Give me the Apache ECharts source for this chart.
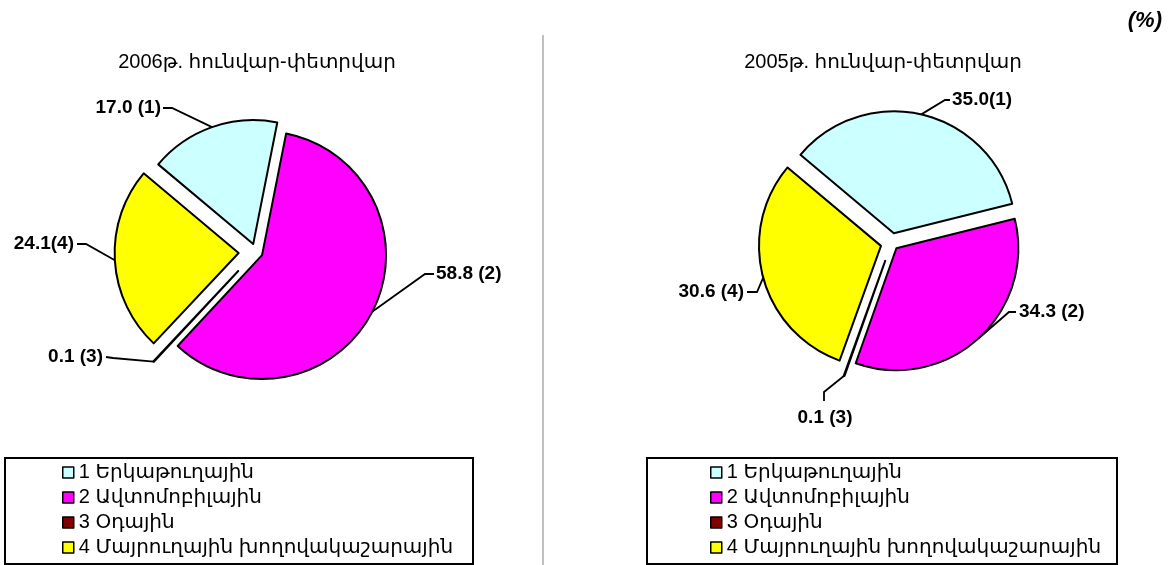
<!DOCTYPE html>
<html>
<head>
<meta charset="utf-8">
<script src="https://cdn.jsdelivr.net/npm/echarts@6/dist/echarts.min.js"></script>
<style>
html, body { margin: 0; padding: 0; background: #fff; }
#chart { width: 1172px; height: 565px; }
</style>
</head>
<body>
<div id="chart"></div>
<script>
// data
var categories = ['1 Երկաթուղային', '2 Ավտոմոբիլային', '3 Օդային', '4 Մայրուղային խողովակաշարային'];
var values2006 = [17.0, 58.8, 0.1, 24.1];
var values2005 = [35.0, 34.3, 0.1, 30.6];
var labelGap2006 = [' ', ' ', ' ', ''];
var labelGap2005 = ['', ' ', ' ', ' '];
var title2006 = '2006թ. հունվար-փետրվար';
var title2005 = '2005թ. հունվար-փետրվար';
var unitText = '(%)';

var colors = ['#ccffff', '#ff00ff', '#800000', '#ffff00'];
var FONT = "'Liberation Sans', 'DejaVu Sans', sans-serif";
var START = 140;

// layout: exploded slices and label spots (Excel style)
var layout2006 = {
  center: [256, 252], radius: 124,
  offsets: [8.4, 6.8, 26, 17.4],
  spots: [
    { x: 161, y: 108, align: 'right', knee: [172, 108], end: [163, 108] },
    { x: 436, y: 274, align: 'left', knee: [425, 274], end: [434, 274] },
    { x: 103, y: 357, align: 'right', knee: [113, 358], end: [106, 357] },
    { x: 74, y: 244, align: 'right', knee: [86, 244], end: [77, 244] }
  ]
};
var layout2005 = {
  center: [891.6, 243], radius: 122,
  offsets: [10, 7.1, 19, 11],
  spots: [
    { x: 952, y: 100, align: 'left', knee: [945, 100], end: [950, 100] },
    { x: 1019, y: 312, align: 'left', knee: [1009, 312], end: [1016, 312] },
    { x: 825, y: 418, align: 'center', knee: [824, 392], end: [824, 401] },
    { x: 744, y: 292, align: 'right', knee: [757, 292], end: [747, 292] }
  ]
};

function pieSeries(values, gaps, lay) {
  var total = values.reduce(function (a, b) { return a + b; }, 0);
  var before = 0;
  var list = [];
  values.forEach(function (v, k) {
    var mid = (START - (before + v / 2) / total * 360) * Math.PI / 180;
    before += v;
    var cx = lay.center[0] + lay.offsets[k] * Math.cos(mid);
    var cy = lay.center[1] - lay.offsets[k] * Math.sin(mid);
    list.push({
      type: 'pie',
      center: [cx, cy],
      radius: lay.radius,
      startAngle: START,
      clockwise: true,
      silent: true,
      animation: false,
      avoidLabelOverlap: false,
      emphasis: { disabled: true },
      data: values.map(function (val, i) {
        var on = i === k;
        return {
          name: categories[i],
          value: val,
          itemStyle: { color: colors[i], borderColor: '#000', borderWidth: 2, opacity: on ? 1 : 0 },
          label: { show: on },
          labelLine: { show: on }
        };
      }),
      label: {
        position: 'outside',
        color: '#000',
        fontSize: 19,
        fontWeight: 'bold',
        fontFamily: FONT,
        overflow: 'none',
        formatter: function (p) {
          return p.value.toFixed(1) + gaps[p.dataIndex] + '(' + (p.dataIndex + 1) + ')';
        }
      },
      labelLine: { lineStyle: { color: '#000', width: 1.8 } },
      labelLayout: function (p) {
        var s = lay.spots[p.dataIndex];
        var a = p.labelLinePoints ? p.labelLinePoints[0] : s.knee;
        return {
          x: s.x, y: s.y, align: s.align, verticalAlign: 'middle',
          labelLinePoints: [a, s.knee, s.end]
        };
      }
    });
  });
  return list;
}

function legendFor(left) {
  return {
    orient: 'vertical',
    left: left,
    top: 462,
    height: 110,
    padding: 0,
    icon: 'rect',
    itemWidth: 11,
    itemHeight: 11,
    itemGap: 4,
    selectedMode: false,
    textStyle: { fontSize: 20, fontFamily: FONT, color: '#000', lineHeight: 21 },
    data: categories.map(function (c, i) {
      return { name: c, itemStyle: { color: colors[i], opacity: 1, borderColor: '#000', borderWidth: 1.5 } };
    })
  };
}

var chart = echarts.init(document.getElementById('chart'));
var option = {
  backgroundColor: '#fff',
  animation: false,
  title: [
    { text: title2006, left: 257, top: 52, textAlign: 'center', padding: 0,
      textStyle: { fontSize: 20, fontWeight: 'normal', color: '#000', fontFamily: FONT } },
    { text: title2005, left: 883, top: 52, textAlign: 'center', padding: 0,
      textStyle: { fontSize: 20, fontWeight: 'normal', color: '#000', fontFamily: FONT } },
    { text: unitText, right: 10, top: 10, padding: 0,
      textStyle: { fontSize: 22, fontWeight: 'bold', fontStyle: 'italic', color: '#000', fontFamily: FONT } }
  ],
  legend: [legendFor(62), legendFor(710)],
  graphic: [
    { type: 'line', shape: { x1: 543, y1: 35, x2: 543, y2: 565 }, style: { stroke: '#c0c0c0', lineWidth: 2 }, silent: true },
    { type: 'rect', shape: { x: 5, y: 458, width: 468, height: 106 }, style: { fill: 'none', stroke: '#000', lineWidth: 2 }, silent: true },
    { type: 'rect', shape: { x: 647, y: 458, width: 470, height: 106 }, style: { fill: 'none', stroke: '#000', lineWidth: 2 }, silent: true }
  ],
  series: pieSeries(values2006, labelGap2006, layout2006).concat(pieSeries(values2005, labelGap2005, layout2005))
};
chart.setOption(option);
</script>
</body>
</html>
